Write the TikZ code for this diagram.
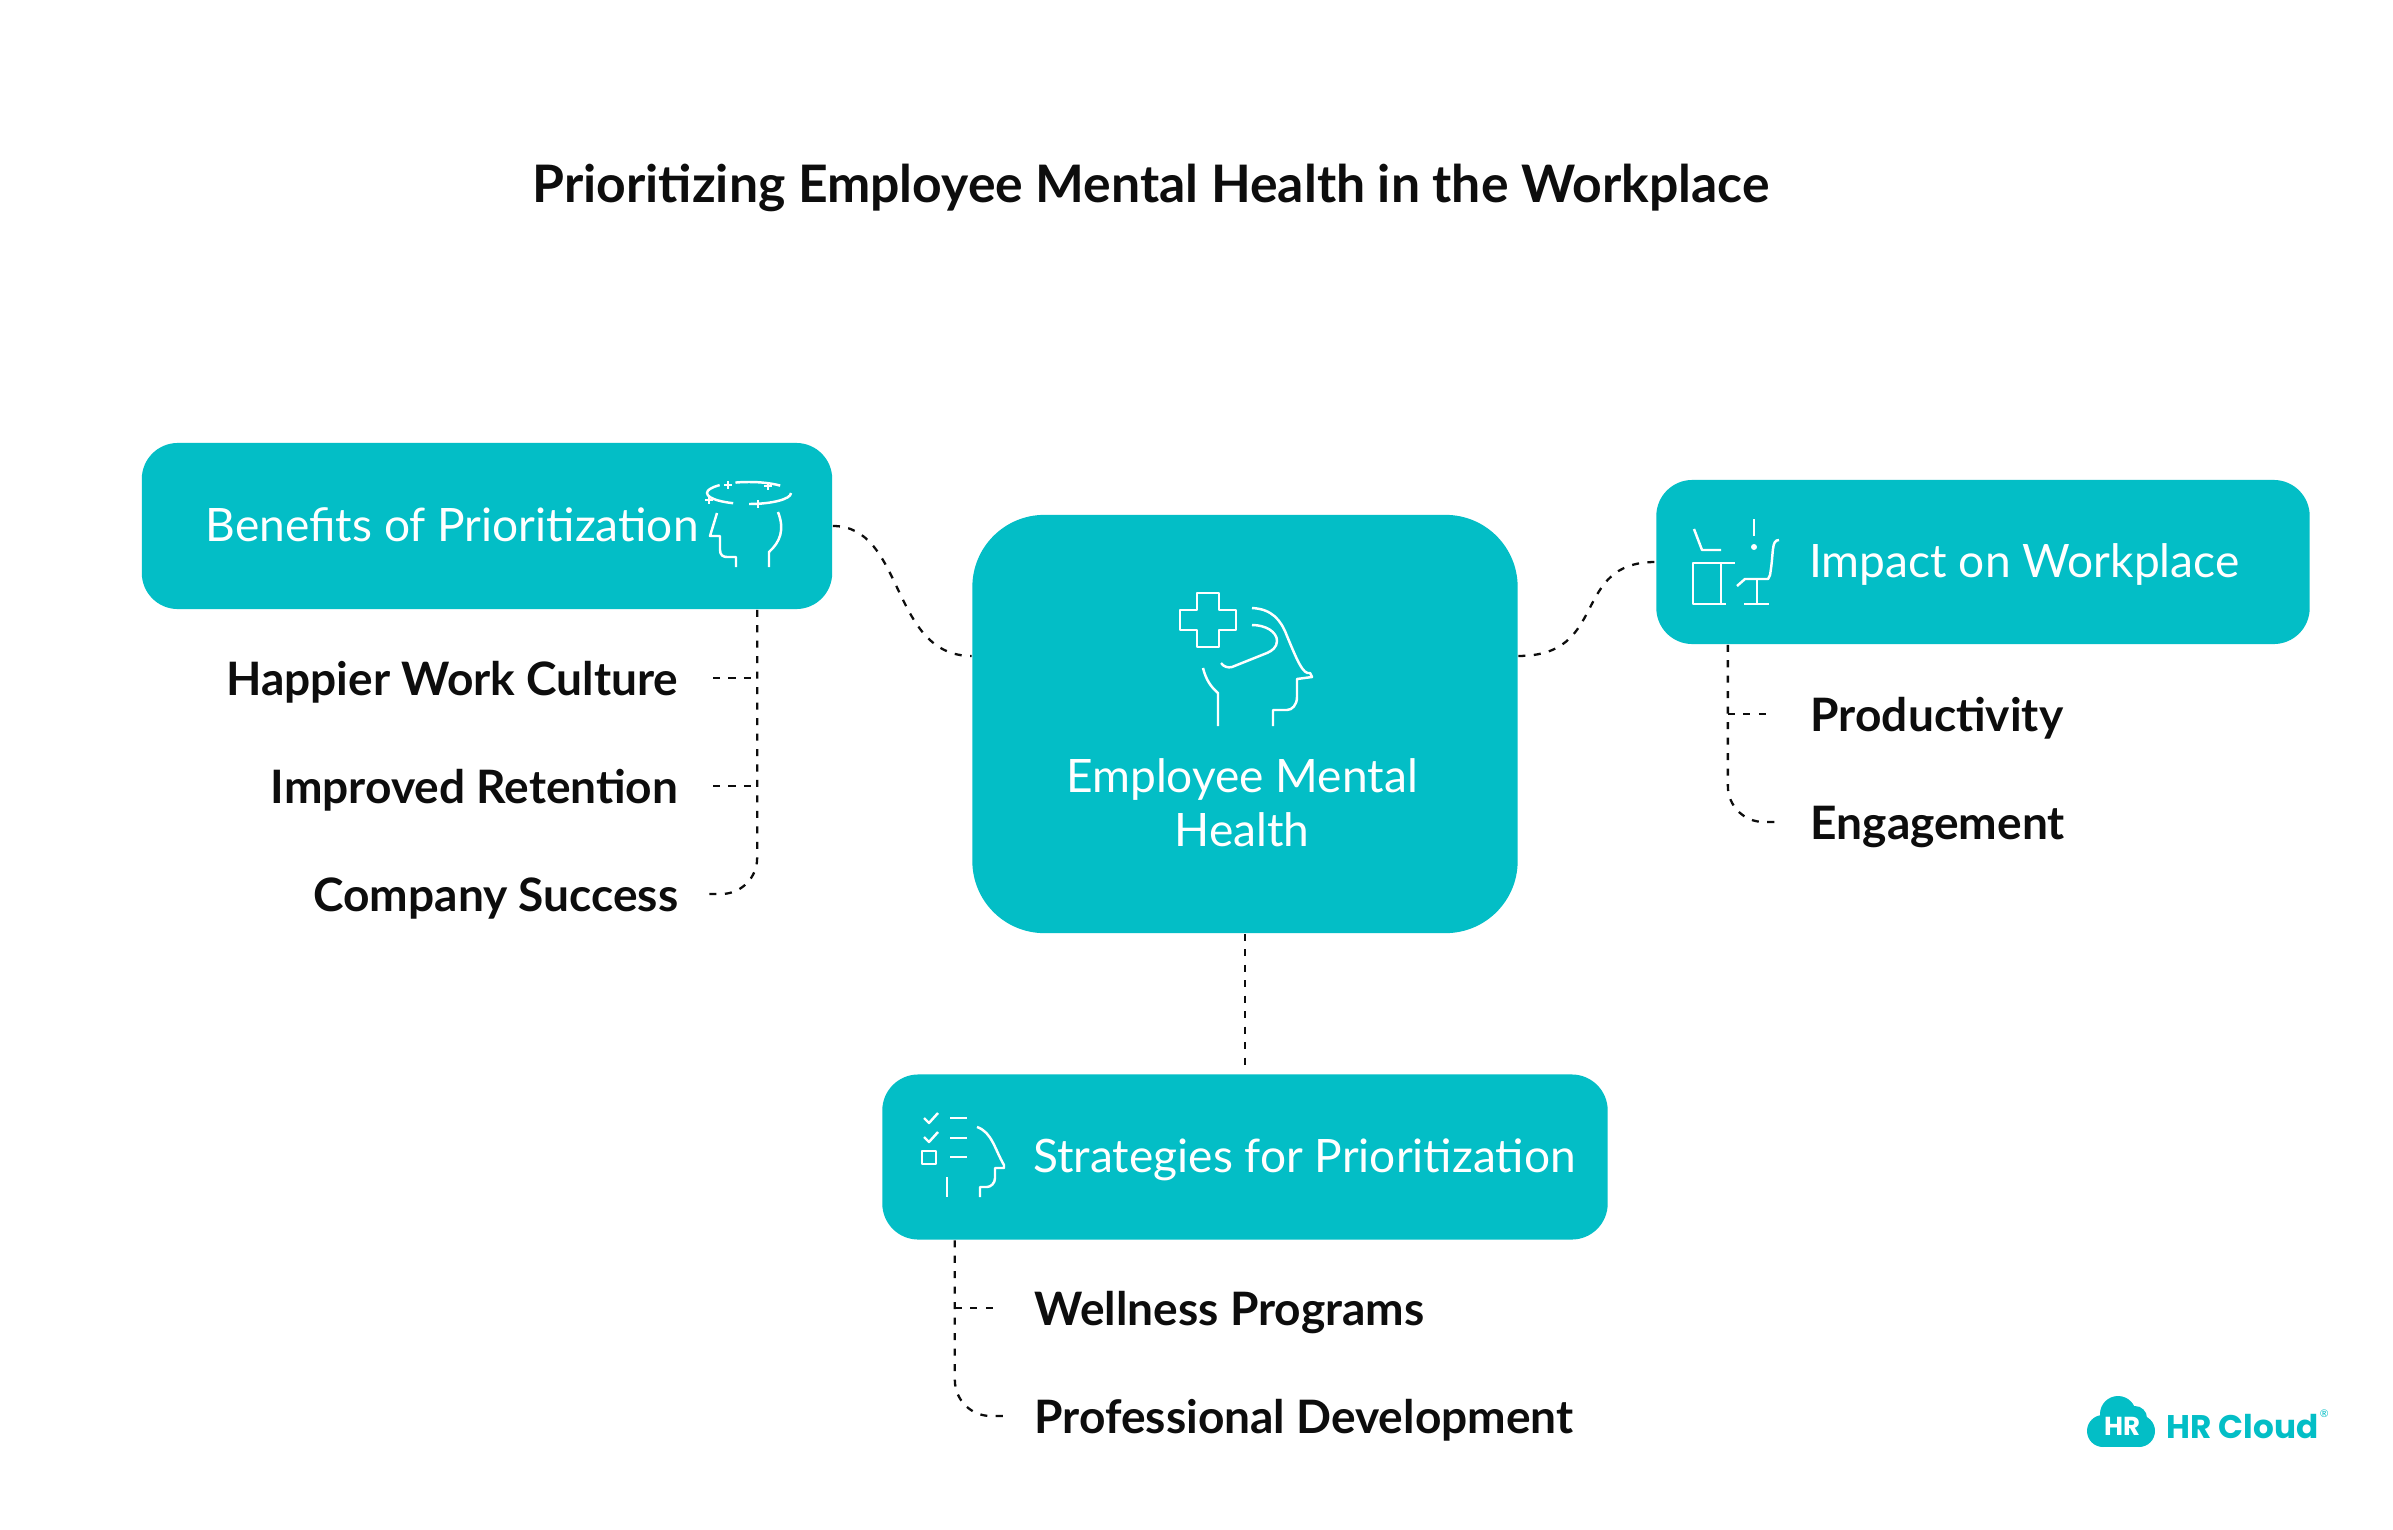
\documentclass[tikz,border=0pt]{standalone}
\usepackage{fontspec}
\setmainfont{Lato}
\newfontfamily\logofont{Poppins}
\usetikzlibrary{positioning}
\definecolor{tealbox}{HTML}{03BEC6}
\definecolor{inktext}{HTML}{0D0D0D}
\tikzset{
	mainbox/.style={fill=tealbox, rounded corners=0.36cm}, % Cajas de color
	boxtext/.style={text=white, inner sep=0pt, text height=0.44cm, text depth=0.14cm, font=\fontsize{13.1}{15.4}\selectfont}, % Texto de las cajas
	itemtext/.style={text=inktext, inner sep=0pt, text height=0.44cm, text depth=0.10cm, font=\fontsize{13.1}{15.4}\selectfont\bfseries}, % Texto de las hojas
	link/.style={draw=inktext, line width=0.65pt, dash pattern=on 2pt off 2.4pt}, % Conectores punteados
	iconline/.style={draw=white, line width=0.7pt, line join=round} % Trazos de los iconos
}

\begin{document}
\begin{tikzpicture}[x=0.01cm, y=-0.01cm]
	\useasboundingbox (0,0) rectangle (2393,1530);
	\fill[white] (0,0) rectangle (2393,1530);

	\node[inner sep=0pt, text=inktext, font=\fontsize{14.7}{17}\selectfont\bfseries] (title) at (1151,188) {Prioritizing Employee Mental Health in the Workplace};

	% Cajas
	\node[mainbox, minimum width=5.45cm, minimum height=4.18cm, rounded corners=0.72cm] (center) at (1245,724) {};
	\node[mainbox, minimum width=6.90cm, minimum height=1.66cm] (benefits) at (487,526) {};
	\node[mainbox, minimum width=6.53cm, minimum height=1.64cm] (impact) at (1983,562) {};
	\node[mainbox, minimum width=7.25cm, minimum height=1.65cm] (strategies) at (1245,1157) {};

	% Textos de las cajas
	\node[boxtext, align=center, text height=, text depth=] (centerText) at (1242,803) {Employee Mental\\Health};
	\node[boxtext, right=0.64cm of benefits.west] (benefitsText) {Benefits of Prioritization};
	\node[boxtext, right=1.53cm of impact.west] (impactText) {Impact on Workplace};
	\node[boxtext, right=1.51cm of strategies.west] (strategiesText) {Strategies for Prioritization};

	% Hojas
	\node[itemtext, anchor=east] (happier) at (679,678) {Happier Work Culture};
	\node[itemtext, anchor=east] (retention) at (679,786) {Improved Retention};
	\node[itemtext, anchor=east] (success) at (679,894) {Company Success};
	\node[itemtext, anchor=west] (productivity) at (1810,714) {Productivity};
	\node[itemtext, anchor=west] (engagement) at (1810,822) {Engagement};
	\node[itemtext, anchor=west] (wellness) at (1034,1308) {Wellness Programs};
	\node[itemtext, anchor=west] (development) at (1034,1416) {Professional Development};

	% Conectores entre cajas
	\coordinate (centerLeft) at ([yshift=0.68cm]center.west);
	\coordinate (centerRight) at ([yshift=0.68cm]center.east);
	\draw[link] (benefits.east) .. controls (905,526) and (890,656) .. (centerLeft);
	\draw[link] (centerRight) .. controls (1610,656) and (1570,562) .. (impact.west);
	\draw[link] (center.south) -- ([yshift=0.08cm]strategies.north);

	% Ramas
	\coordinate (benefitsTrunk) at ([xshift=2.70cm]benefits.south);
	\coordinate (impactTrunk) at ([xshift=-2.55cm]impact.south);
	\coordinate (strategiesTrunk) at ([xshift=-2.90cm]strategies.south);
	\draw[link, rounded corners=0.36cm] (benefitsTrunk) |- ([xshift=0.24cm]success.east);
	\draw[link] ([xshift=0.34cm]happier.east) -- (happier.east -| benefitsTrunk);
	\draw[link] ([xshift=0.34cm]retention.east) -- (retention.east -| benefitsTrunk);
	\draw[link, rounded corners=0.36cm] (impactTrunk) |- ([xshift=-0.28cm]engagement.west);
	\draw[link] (productivity.west -| impactTrunk) -- ([xshift=-0.38cm]productivity.west);
	\draw[link, rounded corners=0.36cm] (strategiesTrunk) |- ([xshift=-0.26cm]development.west);
	\draw[link] (wellness.west -| strategiesTrunk) -- ([xshift=-0.37cm]wellness.west);

	% Icono central
	\draw[iconline] (1197,593) -- (1219,593) -- (1219,610) -- (1236,610) -- (1236,630) -- (1219,630) -- (1219,647) -- (1197,647) -- (1197,630) -- (1180,630) -- (1180,610) -- (1197,610) -- cycle;
	\draw[iconline] (1252,608) .. controls (1272,609) and (1281,620) .. (1287,636) .. controls (1297,660) and (1303,675) .. (1310,673) -- (1312,677) -- (1297,679) -- (1297,697) .. controls (1297,705) and (1292,710) .. (1287,710) -- (1273,710) -- (1273,726);
	\draw[iconline] (1252,625) .. controls (1266,625) and (1277,632) .. (1277,641) .. controls (1277,647) and (1272,651) .. (1267,653) -- (1232,667) .. controls (1228,668) and (1224,667) .. (1221,663);
	\draw[iconline] (1203,668) .. controls (1206,680) and (1211,687) .. (1218,693) -- (1218,726);

	% Icono de beneficios
	\draw[iconline, dash pattern=on 0.45cm off 0.16cm] (749,493) ellipse [x radius=42, y radius=11];
	\foreach \px/\py in {728/485, 768/486, 709/500, 758/504}
		\draw[iconline] (\px-4,\py) -- (\px+4,\py) (\px,\py-4) -- (\px,\py+4);
	\draw[iconline] (717,513) -- (710,536) -- (720,536) -- (720,550) .. controls (720,555) and (723,557) .. (727,557) -- (736,557) -- (736,567);
	\draw[iconline] (778,512) .. controls (785,530) and (780,542) .. (769,552) -- (769,567);

	% Icono de impacto
	\draw[iconline] (1694,529) -- (1702,550) -- (1721,550);
	\draw[iconline] (1735,563) -- (1693,563) -- (1693,604) -- (1726,604);
	\draw[iconline] (1721,563) -- (1721,604);
	\draw[iconline] (1754,519) -- (1754,536);
	\fill[white] (1754,547) circle (3);
	\draw[iconline] (1779,540) .. controls (1771,540) and (1774,552) .. (1770,575) -- (1768,579) -- (1745,579) -- (1737,586);
	\draw[iconline] (1757,579) -- (1757,604);
	\draw[iconline] (1744,604) -- (1769,604);

	% Icono de estrategias
	\foreach \py in {1118, 1137}
		\draw[iconline] (924,\py) -- (929,\py+5) -- (938,\py-5);
	\draw[iconline] (922,1151) rectangle (936,1164);
	\foreach \py in {1118, 1138, 1157}
		\draw[iconline] (950,\py) -- (967,\py);
	\draw[iconline] (977,1127) .. controls (992,1132) and (995,1150) .. (1004,1165) -- (1004,1168) -- (995,1168) -- (995,1178) .. controls (995,1183) and (991,1187) .. (987,1187) -- (980,1187) -- (980,1197);
	\draw[iconline] (947,1177) -- (947,1197);

	% Logo
	\fill[tealbox] (2118,1414) circle (18) (2103,1431) circle (16) (2139,1431) circle (16) (2135,1418) circle (12);
	\fill[tealbox] (2103,1425) rectangle (2139,1447);
	\node[text=white, inner sep=0pt, font=\logofont\fontsize{7.4}{9}\selectfont\bfseries] (logoMark) at (2122,1426) {HR};
	\node[text=tealbox, inner sep=0pt, anchor=west, font=\logofont\fontsize{9.3}{11}\selectfont\bfseries] (logoText) at (2166,1427) {HR Cloud};
	\node[text=tealbox, inner sep=0pt, font=\fontsize{3}{4}\selectfont, right=0pt of logoText.north east] (logoMarkR) {®};
\end{tikzpicture}
\end{document}
